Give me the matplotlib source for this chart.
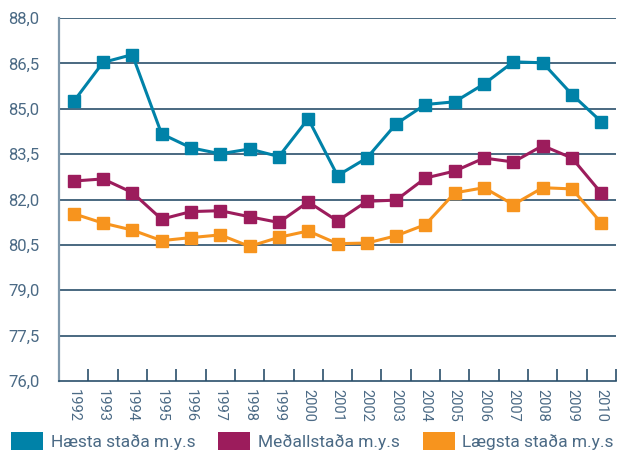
import numpy as np
import matplotlib
matplotlib.use("Agg")
import matplotlib.pyplot as plt
from matplotlib.patches import Patch

plt.rcParams['font.family'] = ['Roboto', 'DejaVu Sans']

years = [str(y) for y in range(1992, 2011)]
haesta = [85.24, 86.53, 86.79, 84.17, 83.71, 83.51, 83.67, 83.42, 84.67, 82.79,
          83.37, 84.50, 85.14, 85.23, 85.82, 86.55, 86.52, 85.47, 84.57]
medal = [82.61, 82.68, 82.23, 81.35, 81.60, 81.63, 81.43, 81.24, 81.92, 81.29,
         81.94, 81.98, 82.71, 82.94, 83.37, 83.24, 83.78, 83.37, 82.21]
laegsta = [81.53, 81.22, 80.99, 80.64, 80.74, 80.83, 80.45, 80.75, 80.96, 80.54,
           80.56, 80.80, 81.17, 82.22, 82.39, 81.83, 82.39, 82.35, 81.22]
series_names = ["Hæsta staða m.y.s", "Meðallstaða m.y.s", "Lægsta staða m.y.s"]
colors = ["#0082A8", "#9C1C5C", "#F7941E"]
yticks = [76.0, 77.5, 79.0, 80.5, 82.0, 83.5, 85.0, 86.5, 88.0]

text_col = "#4B6A85"
grid_col = "#2A4F6B"

fig = plt.figure(figsize=(6.22, 4.55), dpi=100)
ax = fig.add_axes([59/622, 1-381/455, 557/622, 363/455])

x = np.arange(len(years))
for vals, c in zip([haesta, medal, laegsta], colors):
    ax.plot(x, vals, color=c, lw=2.2, marker="s", ms=8.5, zorder=3)

ax.set_xlim(-0.5, len(years) - 0.5)
ax.set_ylim(76, 88)
ax.set_yticks(yticks)
ax.set_yticklabels([f"{v:.1f}".replace(".", ",") for v in yticks],
                   fontsize=12, color=text_col)
for v in yticks[1:]:
    ax.axhline(v, color=grid_col, lw=1.2, zorder=1)

ax.set_xticks(x)
ax.set_xticklabels(years, rotation=270, fontsize=10.5, color=text_col)
ax.tick_params(axis="x", length=0, pad=6)
ax.set_xticks(np.arange(0.5, len(years), 1.0), minor=True)
ax.tick_params(axis="x", which="minor", direction="in", length=9, width=1.2, color=grid_col)
ax.tick_params(axis="y", length=0, pad=14)

for s in ["top", "right"]:
    ax.spines[s].set_visible(False)
ax.spines["left"].set_color("#7F98AB")
ax.spines["left"].set_linewidth(1.6)
ax.spines["bottom"].set_color(grid_col)
ax.spines["bottom"].set_linewidth(1.2)

handles = [Patch(facecolor=c, edgecolor="none") for c in colors]
fig.legend(handles, series_names, loc="center left", bbox_to_anchor=(11/622, 1-441/455), ncol=3,
           frameon=False, borderpad=0, borderaxespad=0, handlelength=1.85, handleheight=1.25,
           handletextpad=0.45, columnspacing=1.3, labelcolor=text_col,
           prop={"size": 12.5})

fig.savefig("out.png", dpi=100)
